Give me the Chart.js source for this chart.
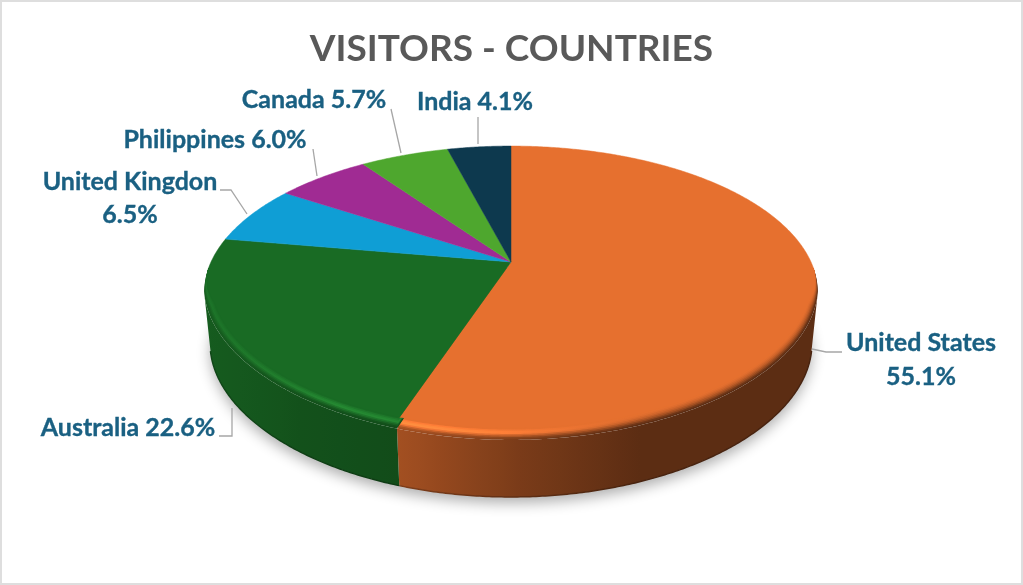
<!DOCTYPE html>
<html>
<head>
<meta charset="utf-8">
<title>Visitors - Countries</title>
<script src="https://cdn.jsdelivr.net/npm/chart.js@4"></script>
<style>
    html, body { margin: 0; padding: 0; background: #fff; }
    canvas { display: block; }
</style>
</head>
<body>
<canvas id="visitorsChart" width="1023" height="585"></canvas>
<script>
// Chart data
const chartTitle = 'VISITORS - COUNTRIES';
const categories = ['United States', 'Australia', 'United Kingdon', 'Philippines', 'Canada', 'India'];
const visitorShares = [55.1, 22.6, 6.5, 6.0, 5.7, 4.1];
const sliceColors = ['#E6702F', '#196B24', '#0F9ED5', '#A02B93', '#4EA72E', '#0D394E'];

// 3D look of the pie
const centerX = 511;
const centerY = 262;
const tilt = 0.211;
const radiusX = 300;
const radiusY = 140.4;
const depth = 57;
const labelColor = '#1A6082';
const labelFont = 'bold 25px Lato';

// Where each label goes: text lines with centre x and baseline, and its leader line
const labelLayout = [
    { x: 921, y: [351, 385], split: true, leader: [[812, 349], [826, 352], [842, 352]] },
    { x: 128, y: [436], leader: [[232, 408], [232, 436], [219, 436]] },
    { x: 130, y: [190, 223], split: true, leader: [[220, 190], [231, 190], [247, 214]] },
    { x: 215, y: [148], leader: [[313, 149], [317, 176]] },
    { x: 314, y: [108], leader: [[391, 109], [401, 153]] },
    { x: 475, y: [110], leader: [[478, 117], [478, 144]] },
];

function hexToRgb(hex) {
    return [1, 3, 5].map((i) => parseInt(hex.substr(i, 2), 16));
}

function mix(a, b, t) {
    return a.map((v, i) => v + (b[i] - v) * t);
}

function css(c) {
    return `rgb(${c.map((v) => Math.round(Math.min(255, v))).join(',')})`;
}

function clamp01(v) {
    return Math.max(0, Math.min(1, v));
}

function lerpPoint(a, b, t) {
    return [a[0] + (b[0] - a[0]) * t, a[1] + (b[1] - a[1]) * t];
}

// Point on the rim of the top face for a chart angle
function rimPoint(angle) {
    const u = Math.cos(angle);
    const v = -Math.sin(angle);
    const w = 1 + tilt * v;
    // the front of the rim sits a little closer to the middle
    const squeeze = 1 - 0.035 * clamp01((-v - 0.2) / 0.75);
    return [centerX + radiusX * squeeze * u / w, centerY - radiusY * v / w];
}

// Point on the inner edge of the bevel, the bevel closes up toward the back
function flatPoint(angle) {
    const p = rimPoint(angle);
    const inner = [centerX + (p[0] - centerX) * 0.977, 287 + (p[1] - 293) * 0.96];
    return lerpPoint(p, inner, clamp01((p[1] - 270) / 40));
}

function bottomPoint(angle) {
    const p = rimPoint(angle);
    return [centerX + (p[0] - centerX) * 0.98, p[1] + depth];
}

// Darkening of the side wall from left to right
function wallShade(x) {
    const stops = [[205, 0.86], [300, 0.76], [397, 0.71], [520, 0.53], [640, 0.4], [820, 0.4]];
    for (let i = 1; i < stops.length; i++) {
        if (x <= stops[i][0]) {
            const t = clamp01((x - stops[i - 1][0]) / (stops[i][0] - stops[i - 1][0]));
            return stops[i - 1][1] + (stops[i][1] - stops[i - 1][1]) * t;
        }
    }
    return 0.4;
}

// Left to right gradient, colorAt gives the colour for an x position
function sideGradient(ctx, colorAt) {
    const gradient = ctx.createLinearGradient(200, 0, 820, 0);
    for (let x = 200; x <= 820; x += 20) {
        gradient.addColorStop((x - 200) / 620, css(colorAt(x)));
    }
    return gradient;
}

function anglesOf(arc) {
    const list = [];
    const step = Math.PI / 360;
    for (let a = arc.startAngle; a < arc.endAngle; a += step) {
        list.push(a);
    }
    list.push(arc.endAngle);
    return list;
}

function traceSector(ctx, angles, pointAt) {
    ctx.beginPath();
    ctx.moveTo(centerX, centerY);
    angles.forEach((a) => {
        const p = pointAt(a);
        ctx.lineTo(p[0], p[1]);
    });
    ctx.closePath();
}

// Chart.js works out the slice angles, this draws them with the tilted 3D look
const pie3d = {
    id: 'pie3d',
    beforeDraw(chart) {
        const ctx = chart.ctx;
        ctx.save();
        ctx.strokeStyle = '#DEDEDE';
        ctx.lineWidth = 2;
        ctx.strokeRect(1, 1, 1021, 583);
        ctx.restore();
    },
    beforeDatasetsDraw(chart) {
        const ctx = chart.ctx;
        const arcs = chart.getDatasetMeta(0).data;
        ctx.save();

        // Soft shadow under the pie
        ctx.save();
        ctx.shadowColor = 'rgba(0,0,0,0.32)';
        ctx.shadowBlur = 14;
        ctx.shadowOffsetY = 6;
        ctx.fillStyle = '#fff';
        ctx.beginPath();
        for (let a = 0; a < Math.PI * 2; a += 0.02) {
            const p = bottomPoint(a);
            ctx.lineTo(p[0], p[1]);
        }
        ctx.closePath();
        ctx.fill();
        ctx.restore();

        // Side wall, only the part that faces the viewer
        arcs.forEach((arc, i) => {
            const base = hexToRgb(sliceColors[i]);
            const angles = anglesOf(arc).filter((a) => Math.sin(a) >= tilt);
            if (!angles.length) return;

            ctx.fillStyle = sideGradient(ctx, (x) => base.map((v) => v * wallShade(x)));
            ctx.beginPath();
            angles.forEach((a) => {
                const p = rimPoint(a);
                ctx.lineTo(p[0], p[1]);
            });
            angles.slice().reverse().forEach((a) => {
                const p = bottomPoint(a);
                ctx.lineTo(p[0], p[1]);
            });
            ctx.closePath();
            ctx.fill();

            // Darker line along the bottom edge
            ctx.strokeStyle = sideGradient(ctx, (x) => base.map((v) => v * wallShade(x) * 0.78));
            ctx.lineWidth = 1.5;
            ctx.beginPath();
            angles.forEach((a) => {
                const p = bottomPoint(a);
                ctx.lineTo(p[0], p[1]);
            });
            ctx.stroke();
        });

        // Bevel rings from the rim inward, only seen on the front of the pie
        const rings = 8;
        ctx.save();
        ctx.beginPath();
        ctx.rect(0, 268, 1023, 317);
        ctx.clip();
        arcs.forEach((arc, i) => {
            const base = hexToRgb(sliceColors[i]);
            const angles = anglesOf(arc);
            for (let s = rings; s > 0; s--) {
                const t = (s - 0.5) / rings;
                ctx.fillStyle = sideGradient(ctx, (x) => {
                    const wall = base.map((v) => v * wallShade(x));
                    const shine = clamp01((650 - x) / 200) * (0.35 + 0.65 * clamp01((x - 220) / 120));
                    const bump = Math.max(0, 1 - Math.abs(t - 0.42) / 0.35);
                    const color = mix(base, wall, clamp01(t * t * 1.3));
                    const bright = color.map((v) => v * 1.6 + 12);
                    return mix(color, bright, 0.55 * shine * bump);
                });
                traceSector(ctx, angles, (a) => lerpPoint(flatPoint(a), rimPoint(a), s / rings));
                ctx.fill();
            }
        });
        ctx.restore();

        // Flat part of each slice
        arcs.forEach((arc, i) => {
            ctx.fillStyle = sliceColors[i];
            ctx.strokeStyle = sliceColors[i];
            ctx.lineWidth = 0.5;
            traceSector(ctx, anglesOf(arc), flatPoint);
            ctx.fill();
            ctx.stroke();
        });

        ctx.restore();
        return false;
    },
    afterDraw(chart) {
        const ctx = chart.ctx;
        ctx.save();
        categories.forEach((name, i) => {
            const spot = labelLayout[i];
            const share = visitorShares[i].toFixed(1) + '%';

            ctx.strokeStyle = '#A6A6A6';
            ctx.lineWidth = 1.3;
            ctx.beginPath();
            spot.leader.forEach((p) => ctx.lineTo(p[0], p[1]));
            ctx.stroke();

            ctx.font = labelFont;
            ctx.fillStyle = labelColor;
            ctx.strokeStyle = labelColor;
            ctx.lineWidth = 0.35;
            ctx.textAlign = 'center';
            ctx.textBaseline = 'alphabetic';
            const lines = spot.split ? [name, share] : [name + ' ' + share];
            lines.forEach((line, k) => {
                ctx.fillText(line, spot.x, spot.y[k]);
                ctx.strokeText(line, spot.x, spot.y[k]);
            });
        });
        ctx.restore();
    },
};

new Chart(document.getElementById('visitorsChart').getContext('2d'), {
    type: 'pie',
    data: {
        labels: categories,
        datasets: [
            {
                data: visitorShares,
                backgroundColor: sliceColors,
                borderWidth: 0,
            },
        ],
    },
    options: {
        responsive: false,
        animation: false,
        plugins: {
            legend: { display: false },
            tooltip: { enabled: false },
            title: {
                display: true,
                text: chartTitle,
                color: '#595959',
                font: { family: 'Lato', size: 37, weight: 'bold' },
                padding: { top: 27, bottom: 10 },
            },
        },
    },
    plugins: [pie3d],
});
</script>
</body>
</html>
